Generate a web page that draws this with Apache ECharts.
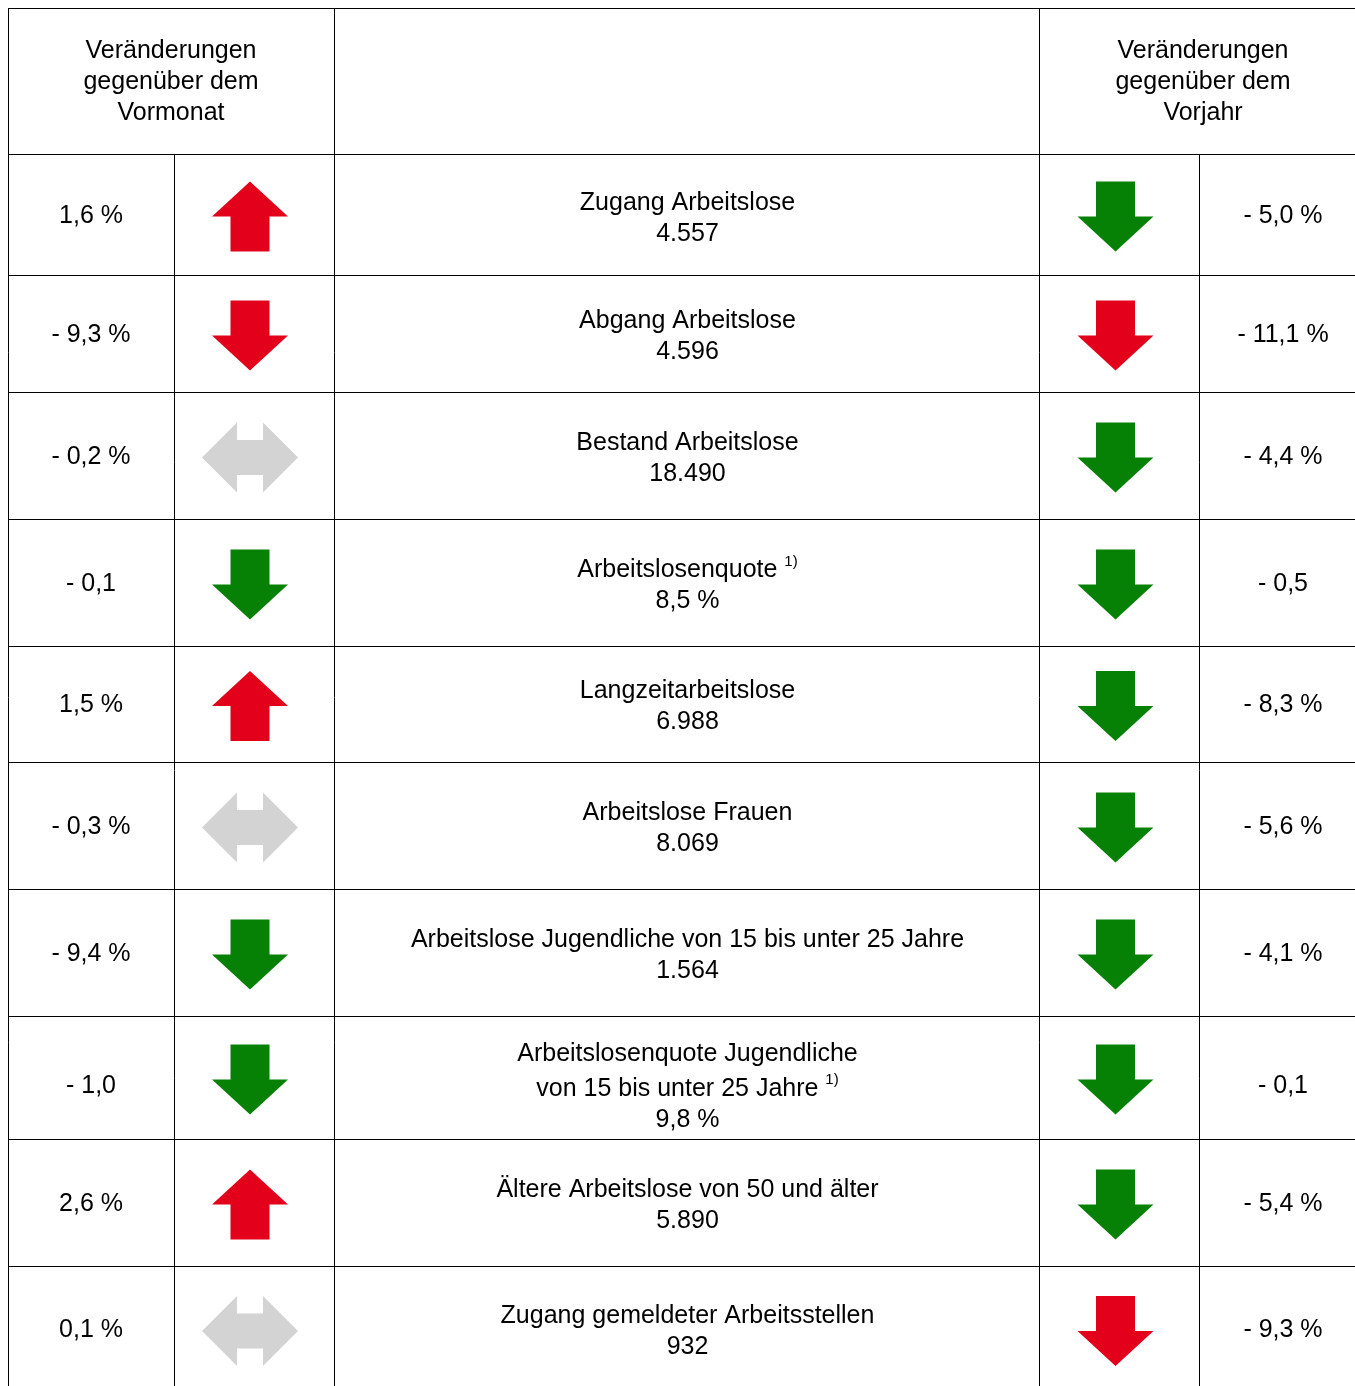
<!DOCTYPE html>
<html>
<head>
<meta charset="utf-8">
<script src="https://cdn.jsdelivr.net/npm/echarts@6/dist/echarts.min.js"></script>
<style>
html,body{margin:0;padding:0;background:#fff;}
#chart{width:1355px;height:1386px;}
</style>
</head>
<body>
<div id="chart"></div>
<script>
// ---------- data ----------
const headerMonth = 'Veränderungen\ngegenüber dem\nVormonat';
const headerYear = 'Veränderungen\ngegenüber dem\nVorjahr';
const categories = [
  'Zugang Arbeitslose',
  'Abgang Arbeitslose',
  'Bestand Arbeitslose',
  'Arbeitslosenquote',
  'Langzeitarbeitslose',
  'Arbeitslose Frauen',
  'Arbeitslose Jugendliche von 15 bis unter 25 Jahre',
  'Arbeitslosenquote Jugendliche\nvon 15 bis unter 25 Jahre',
  'Ältere Arbeitslose von 50 und älter',
  'Zugang gemeldeter Arbeitsstellen'
];
const footnotes = ['', '', '', '1)', '', '', '', '1)', '', ''];
const values = ['4.557', '4.596', '18.490', '8,5 %', '6.988', '8.069', '1.564', '9,8 %', '5.890', '932'];
const changeMonth = ['1,6 %', '- 9,3 %', '- 0,2 %', '- 0,1', '1,5 %', '- 0,3 %', '- 9,4 %', '- 1,0', '2,6 %', '0,1 %'];
const trendMonth = ['up', 'down', 'flat', 'down', 'up', 'flat', 'down', 'down', 'up', 'flat'];
const ratingMonth = ['bad', 'bad', 'neutral', 'good', 'bad', 'neutral', 'good', 'good', 'bad', 'neutral'];
const changeYear = ['- 5,0 %', '- 11,1 %', '- 4,4 %', '- 0,5', '- 8,3 %', '- 5,6 %', '- 4,1 %', '- 0,1', '- 5,4 %', '- 9,3 %'];
const trendYear = ['down', 'down', 'down', 'down', 'down', 'down', 'down', 'down', 'down', 'down'];
const ratingYear = ['good', 'bad', 'good', 'good', 'good', 'good', 'good', 'good', 'good', 'bad'];

// ---------- layout & style ----------
const colEdges = [0, 166, 326, 1031, 1191, 1359];
const headerHeight = 146;
const rowHeights = [121, 117, 127, 127, 116, 127, 127, 123, 127, 126];
const textShift = [3, 2.5, 2.5, 2.5, 2.5, 2.5, 2.5, 10, 2.5, 2.5];
const labelExtra = [1.5, 1, 0.5, 0.5, 0.5, 0.5, 0.5, 0, 0.5, 0.5];
const arrowDx = -4, arrowDy = 2;
const ratingColors = { good: '#068106', bad: '#E2001A', neutral: '#D3D3D3' };
const FONT = '"Liberation Sans", Arial, Helvetica, sans-serif';
const FS = 25;
const VIEW_W = 1347, VIEW_H = 1378;   // visible part of the table

const rowEdges = [headerHeight];
rowHeights.forEach(h => rowEdges.push(rowEdges[rowEdges.length - 1] + h));
const totalHeight = rowEdges[rowEdges.length - 1];
const totalWidth = colEdges[colEdges.length - 1];

const richStyles = {
  n: { fontSize: FS, fontFamily: FONT, lineHeight: 31, fill: '#000' },
  b: { fontSize: FS, fontFamily: FONT, lineHeight: 35, height: 31, verticalAlign: 'bottom', fill: '#000' },
  s: { fontSize: 15, fontFamily: FONT, lineHeight: 15, height: 15, verticalAlign: 'top', fill: '#000' },
  s2: { fontSize: 15, fontFamily: FONT, lineHeight: 15, height: 20, verticalAlign: 'top', fill: '#000' }
};

function crisp(v) { return Math.round(v - 0.5) + 0.5; }

function labelText(i) {
  const lines = categories[i].split('\n');
  const multi = lines.length > 1;
  const out = lines.map((ln, k) => {
    const last = k === lines.length - 1;
    if (last && footnotes[i]) {
      return multi ? '{b|' + ln + ' }{s2|' + footnotes[i] + '}' : '{n|' + ln + ' }{s|' + footnotes[i] + '}';
    }
    return '{n|' + ln + '}';
  });
  out.push('{n|' + values[i] + '}');
  return out.join('\n');
}

function arrowPoints(dir, cx, cy) {
  let pts;
  if (dir === 'up') {
    pts = [[0, -35], [38, 0], [19.5, 0], [19.5, 35], [-19.5, 35], [-19.5, 0], [-38, 0]];
  } else if (dir === 'down') {
    pts = [[0, 35], [38, 0], [19.5, 0], [19.5, -35], [-19.5, -35], [-19.5, 0], [-38, 0]];
  } else {
    pts = [[-48, 0], [-13, -35], [-13, -17.5], [13, -17.5], [13, -35], [48, 0], [13, 35], [13, 17.5], [-13, 17.5], [-13, 35]];
  }
  return pts.map(p => [cx + p[0], cy + p[1]]);
}

function textEl(x, y, text, extra) {
  return {
    type: 'text', x: x, y: y,
    style: Object.assign({
      text: text, align: 'center', verticalAlign: 'middle',
      fontSize: FS, fontFamily: FONT, fill: '#000', lineHeight: 31
    }, extra || {})
  };
}

function renderGrid(params, api) {
  const children = [];
  const line = (x1, y1, x2, y2) => {
    const p1 = api.coord([x1, y1]), p2 = api.coord([x2, y2]);
    children.push({
      type: 'line',
      shape: { x1: crisp(p1[0]), y1: crisp(p1[1]), x2: crisp(p2[0]), y2: crisp(p2[1]) },
      style: { stroke: '#000', lineWidth: 1, lineCap: 'square' }
    });
  };
  line(0, 0, totalWidth, 0);
  rowEdges.slice(0, -1).forEach(y => line(0, y, totalWidth, y));
  [0, 2, 3].forEach(c => line(colEdges[c], 0, colEdges[c], totalHeight));
  [1, 4].forEach(c => line(colEdges[c], headerHeight, colEdges[c], totalHeight));
  const hm = api.coord([(colEdges[0] + colEdges[2]) / 2, headerHeight / 2]);
  const hy = api.coord([(colEdges[3] + colEdges[5]) / 2, headerHeight / 2]);
  children.push(textEl(hm[0], hm[1] + 1.5, headerMonth));
  children.push(textEl(hy[0], hy[1] + 1.5, headerYear));
  return { type: 'group', children: children };
}

function renderRow(params, api) {
  const i = api.value(0);
  const yc = (rowEdges[i] + rowEdges[i + 1]) / 2;
  const children = [];
  const pM = api.coord([(colEdges[0] + colEdges[1]) / 2, yc]);
  const pL = api.coord([(colEdges[2] + colEdges[3]) / 2, yc]);
  const pY = api.coord([(colEdges[4] + colEdges[5]) / 2, yc]);
  children.push(textEl(pM[0], pM[1] + textShift[i] - 1, changeMonth[i]));
  children.push(textEl(pY[0], pY[1] + textShift[i] - 1, changeYear[i]));
  children.push(textEl(pL[0] + 1, pL[1] + textShift[i] + labelExtra[i], labelText(i), { rich: richStyles }));
  const aM = api.coord([(colEdges[1] + colEdges[2]) / 2, yc]);
  const aY = api.coord([(colEdges[3] + colEdges[4]) / 2, yc]);
  children.push({
    type: 'polygon',
    shape: { points: arrowPoints(trendMonth[i], aM[0] + arrowDx, aM[1] + arrowDy) },
    style: { fill: ratingColors[ratingMonth[i]] }
  });
  children.push({
    type: 'polygon',
    shape: { points: arrowPoints(trendYear[i], aY[0] + arrowDx + 0.5, aY[1] + arrowDy) },
    style: { fill: ratingColors[ratingYear[i]] }
  });
  return { type: 'group', children: children };
}

const chart = echarts.init(document.getElementById('chart'), null, { renderer: 'canvas' });
chart.setOption({
  backgroundColor: '#fff',
  animation: false,
  grid: { left: 8, top: 8, right: 0, bottom: 0, containLabel: false, outerBoundsMode: 'none' },
  xAxis: { type: 'value', min: 0, max: VIEW_W, show: false },
  yAxis: { type: 'value', min: 0, max: VIEW_H, inverse: true, show: false },
  series: [
    {
      type: 'custom', name: 'table', silent: true, clip: false,
      renderItem: renderGrid, data: [[0, 0]]
    },
    {
      type: 'custom', name: 'rows', silent: true, clip: false,
      renderItem: renderRow,
      data: categories.map((c, i) => [i, 0])
    }
  ]
});
</script>
</body>
</html>
